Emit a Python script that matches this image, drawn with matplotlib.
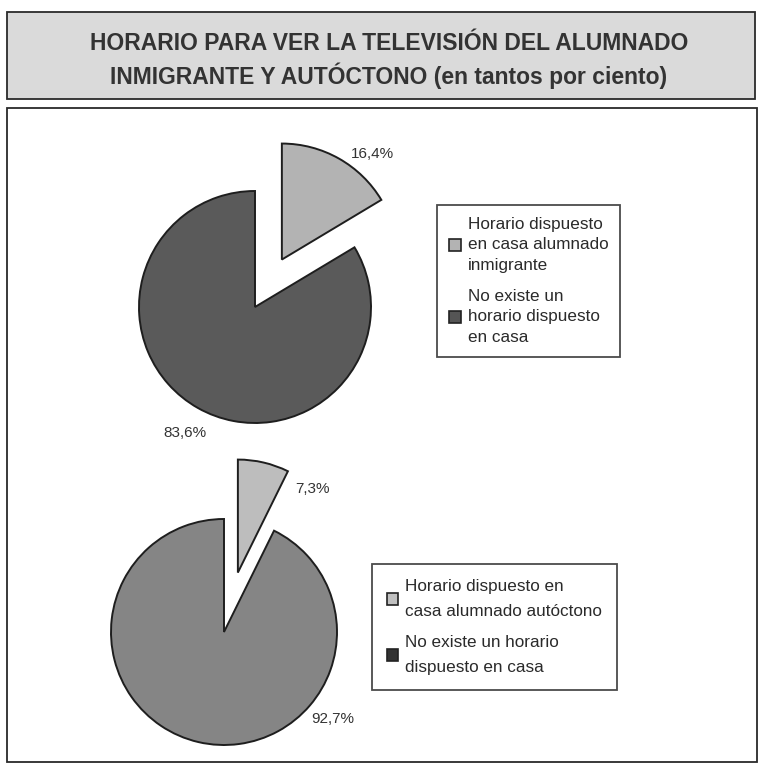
import matplotlib
matplotlib.use("Agg")
import matplotlib.pyplot as plt
from matplotlib.patches import Rectangle

plt.rcParams['font.family'] = ['Liberation Sans', 'DejaVu Sans']

W, H = 759, 763

title_lines = ["HORARIO PARA VER LA TELEVISIÓN DEL ALUMNADO",
               "INMIGRANTE Y AUTÓCTONO (en tantos por ciento)"]

# Top pie: immigrant students
imm_values = [16.4, 83.6]
imm_labels = ["16,4%", "83,6%"]
imm_legend = ["Horario dispuesto\nen casa alumnado\ninmigrante",
              "No existe un\nhorario dispuesto\nen casa"]

# Bottom pie: native students
nat_values = [7.3, 92.7]
nat_labels = ["7,3%", "92,7%"]
nat_legend = ["Horario dispuesto en\ncasa alumnado autóctono",
              "No existe un horario\ndispuesto en casa"]

fig = plt.figure(figsize=(W / 100, H / 100), dpi=100)
fig.patch.set_facecolor('white')

def fx(px):
    return px / W

def fy(py):
    return 1 - py / H

# Title box
fig.patches.append(Rectangle((fx(7), fy(99)), fx(748), 87 / H, transform=fig.transFigure,
                             facecolor='#dadada', edgecolor='#2a2a2a', lw=1.3))
fig.text(fx(389), fy(44), title_lines[0], ha='center', va='center', fontsize=16.5,
         fontweight='bold', color='#333333')
fig.text(fx(389), fy(76), title_lines[1], ha='center', va='center', fontsize=16.5,
         fontweight='bold', color='#333333')

# Main frame
fig.patches.append(Rectangle((fx(7), fy(762)), fx(750), 654 / H, transform=fig.transFigure,
                             facecolor='none', edgecolor='#2a2a2a', lw=1.3))

L = 1.8

def pie_axes(cx, cy, r):
    half = L * r
    ax = fig.add_axes([fx(cx - half), fy(cy + half), 2 * half / W, 2 * half / H])
    return ax

def finish(ax):
    ax.set_xlim(-L, L)
    ax.set_ylim(-L, L)
    ax.set_aspect('equal')
    ax.axis('off')

# Top pie
ax1 = pie_axes(255, 307, 116)
ax1.pie(imm_values, startangle=90, counterclock=False, explode=[0.47, 0],
        colors=['#b3b3b3', '#5a5a5a'],
        wedgeprops=dict(edgecolor='#1e1e1e', linewidth=1.4))
finish(ax1)
fig.text(fx(372), fy(154), imm_labels[0], ha='center', va='center', fontsize=11, color='#333333')
fig.text(fx(185), fy(433), imm_labels[1], ha='center', va='center', fontsize=11, color='#333333')

# Bottom pie
ax2 = pie_axes(224, 632, 113)
ax2.pie(nat_values, startangle=90, counterclock=False, explode=[0.54, 0],
        colors=['#bdbdbd', '#858585'],
        wedgeprops=dict(edgecolor='#1e1e1e', linewidth=1.4))
finish(ax2)
fig.text(fx(313), fy(489), nat_labels[0], ha='center', va='center', fontsize=11, color='#333333')
fig.text(fx(333), fy(719), nat_labels[1], ha='center', va='center', fontsize=11, color='#333333')

def make_legend(labels, colors, x0, y0, ls, lsp, bp):
    handles = [Rectangle((0, 0), 1, 1, facecolor=c, edgecolor='#222222', lw=1.2) for c in colors]
    leg = fig.legend(handles, labels, loc='upper left', bbox_to_anchor=(fx(x0), fy(y0)),
                     frameon=True, fancybox=False, fontsize=12.3, handlelength=0.7,
                     handleheight=0.7, handletextpad=0.4, labelspacing=lsp,
                     borderpad=bp, borderaxespad=0)
    fr = leg.get_frame()
    fr.set_edgecolor('#1e1e1e')
    fr.set_linewidth(1.3)
    for t in leg.get_texts():
        t.set_linespacing(ls)
        t.set_color('#2a2a2a')
    return leg

make_legend(imm_legend, ['#b3b3b3', '#555555'], 437, 205, 1.45, 0.95, 0.7)
make_legend(nat_legend, ['#c0c0c0', '#333333'], 372, 564, 1.85, 0.95, 0.85)

fig.savefig('out.png', dpi=100)
